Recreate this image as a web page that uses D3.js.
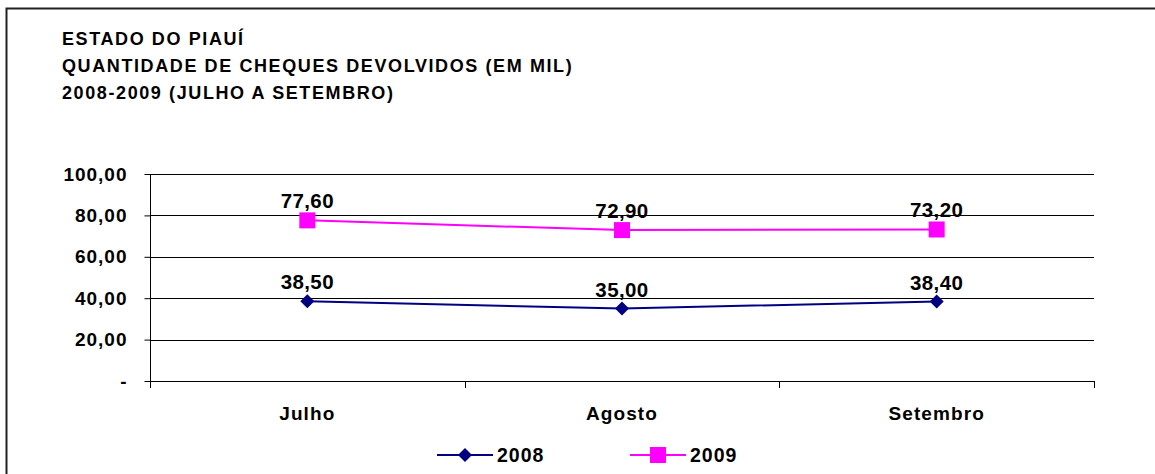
<!DOCTYPE html>
<html>
<head>
<meta charset="utf-8">
<script src="https://cdn.jsdelivr.net/npm/d3@7"></script>
<style>
  html, body { margin: 0; padding: 0; background: #fff; }
  svg { display: block; font-family: "Liberation Sans", Arial, sans-serif; font-weight: bold; }
</style>
</head>
<body>
<svg id="chart" width="1155" height="474"></svg>
<script>
// Cheques devolvidos, Piauí, julho a setembro (mil)
const categories = ["Julho", "Agosto", "Setembro"];
const series2008 = [38.5, 35.0, 38.4];
const series2009 = [77.6, 72.9, 73.2];
const yTicks = [0, 20, 40, 60, 80, 100];
const titleLines = [
  "ESTADO DO PIAUÍ",
  "QUANTIDADE DE CHEQUES DEVOLVIDOS (EM MIL)",
  "2008-2009 (JULHO A SETEMBRO)"
];
const seriesList = [
  { name: "2008", values: series2008, color: "#000080", marker: "diamond" },
  { name: "2009", values: series2009, color: "#FF00FF", marker: "square" }
];

const svg = d3.select("#chart");
const W = 1155, H = 474;
const plot = { left: 150, right: 1094, top: 174, bottom: 381 };

const fmt = v => v === 0 ? "-" : d3.format(".2f")(v).replace(".", ",");

// outer frame
svg.append("rect")
  .attr("x", 6.5).attr("y", 8.5)
  .attr("width", W + 10).attr("height", H + 10)
  .attr("fill", "none").attr("stroke", "#222").attr("stroke-width", 2);

// title block
svg.append("g").selectAll("text").data(titleLines).join("text")
  .attr("x", 62)
  .attr("y", (d, i) => 45 + i * 27)
  .attr("font-size", 18)
  .attr("letter-spacing", 1.6)
  .attr("fill", "#000")
  .text(d => d);

const x = d3.scalePoint().domain(categories).range([plot.left, plot.right]).padding(0.5);
const y = d3.scaleLinear().domain([0, 100]).range([plot.bottom, plot.top]);

// horizontal gridlines
svg.append("g").selectAll("line").data(yTicks).join("line")
  .attr("x1", plot.left).attr("x2", plot.right)
  .attr("y1", d => Math.round(y(d)) + 0.5).attr("y2", d => Math.round(y(d)) + 0.5)
  .attr("stroke", "#000").attr("stroke-width", 1);

// y axis
const yAxis = svg.append("g")
  .attr("transform", `translate(${plot.left + 0.5},0)`)
  .call(d3.axisLeft(y).tickValues(yTicks).tickSize(6).tickPadding(17).tickFormat(fmt));
yAxis.select(".domain").attr("stroke", "#000").attr("d", `M0,${plot.top}V${plot.bottom + 1}`);
yAxis.selectAll(".tick line").attr("stroke", "#000");
yAxis.selectAll(".tick text")
  .attr("font-size", 19).attr("letter-spacing", 1).attr("font-weight", "bold")
  .attr("font-family", "Liberation Sans, Arial, sans-serif")
  .attr("fill", "#000");

// x axis: ticks at category boundaries
const step = x.step();
const boundaries = d3.range(categories.length + 1).map(i => plot.left + i * step);
svg.append("g").selectAll("line").data(boundaries).join("line")
  .attr("x1", d => Math.round(d) + 0.5).attr("x2", d => Math.round(d) + 0.5)
  .attr("y1", plot.bottom).attr("y2", plot.bottom + 7)
  .attr("stroke", "#000");
svg.append("g").selectAll("text").data(categories).join("text")
  .attr("x", d => x(d))
  .attr("y", 420)
  .attr("text-anchor", "middle")
  .attr("font-size", 19)
  .attr("letter-spacing", 1.1)
  .attr("fill", "#000")
  .text(d => d);

const line = d3.line().x((d, i) => x(categories[i])).y(d => y(d));

function drawMarker(g, type, color, cx, cy) {
  if (type === "diamond") {
    g.append("path")
      .attr("d", `M${cx},${cy - 7}L${cx + 7},${cy}L${cx},${cy + 7}L${cx - 7},${cy}Z`)
      .attr("fill", color);
  } else {
    g.append("rect")
      .attr("x", cx - 8).attr("y", cy - 8).attr("width", 16).attr("height", 16)
      .attr("fill", color);
  }
}

seriesList.forEach(s => {
  const g = svg.append("g");
  g.append("path")
    .datum(s.values)
    .attr("d", line)
    .attr("fill", "none")
    .attr("stroke", s.color)
    .attr("stroke-width", 2);
  s.values.forEach((v, i) => drawMarker(g, s.marker, s.color, x(categories[i]), y(v)));
  g.selectAll("text.val").data(s.values).join("text")
    .attr("class", "val")
    .attr("x", (d, i) => x(categories[i]))
    .attr("y", d => y(d) - 12)
    .attr("text-anchor", "middle")
    .attr("font-size", 20.5)
    .attr("letter-spacing", 0.4)
    .attr("fill", "#000")
    .text(d => fmt(d));
});

// legend
const legendItems = [
  { s: seriesList[0], x0: 437 },
  { s: seriesList[1], x0: 630 }
];
legendItems.forEach(({ s, x0 }) => {
  const g = svg.append("g");
  const ly = 455;
  g.append("line")
    .attr("x1", x0).attr("x2", x0 + 56)
    .attr("y1", ly).attr("y2", ly)
    .attr("stroke", s.color).attr("stroke-width", 2);
  drawMarker(g, s.marker, s.color, x0 + 28, ly);
  g.append("text")
    .attr("x", x0 + 60).attr("y", ly + 7)
    .attr("font-size", 19.5)
    .attr("letter-spacing", 1)
    .attr("fill", "#000")
    .text(s.name);
});
</script>
</body>
</html>
